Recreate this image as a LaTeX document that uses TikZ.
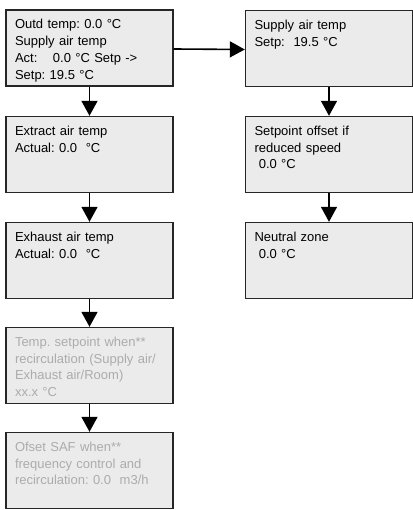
\documentclass[tikz,border=0pt]{standalone}
\usepackage{fontspec}
\setmainfont{Liberation Sans}
\usetikzlibrary{arrows.meta}
\definecolor{boxgray}{RGB}{235,235,235}
\definecolor{dimtext}{RGB}{172,172,172}
\tikzset{%
  menubox/.style={draw=black!85,line width=1.4pt,fill=boxgray,rectangle,
    inner xsep=9pt,inner ysep=0pt,text width=149pt,align=left,
    text height=19pt,text depth=57pt,
    font=\fontsize{13}{16.7}\selectfont\frenchspacing},
  dimbox/.style={menubox,text=dimtext},
  flow/.style={draw=black,line width=1.6pt,-{Triangle[width=16pt,length=15pt]}}
}

\begin{document}
\begin{tikzpicture}[x=1pt,y=-1pt]
  \useasboundingbox (0,0) rectangle (412,510);
  % main column
  \path
    (89.5,48) node[menubox] (m_1)
      {Outd temp: 0.0 °C\\Supply air temp\\Act:\hspace{1.2em}0.0 °C Setp ->\\Setp: 19.5 °C}
    (89.5,154.5) node[menubox] (m_2) {Extract air temp\\Actual: 0.0 \ °C}
    (89.5,260.5) node[menubox] (m_3) {Exhaust air temp\\Actual: 0.0 \ °C}
    (89.5,365.5) node[dimbox] (m_4)
      {Temp. setpoint when**\\recirculation (Supply air/\\Exhaust air/Room)\\xx.x °C}
    (89.5,470.5) node[dimbox] (m_5)
      {Ofset SAF when**\\frequency control and\\recirculation: 0.0 \ m3/h};
  % setpoint column
  \path
    (329,48.5) node[menubox] (s_1) {Supply air temp\\Setp: \ 19.5 °C}
    (329,154.5) node[menubox] (s_2) {Setpoint offset if\\reduced speed\\\ 0.0 °C}
    (329,260.5) node[menubox] (s_3) {Neutral zone\\\ 0.0 °C};
  \draw[flow] (m_1) -- (m_2);
  \draw[flow] (m_2) -- (m_3);
  \draw[flow] (m_3) -- (m_4);
  \draw[flow] (m_4) -- (m_5);
  \draw[flow] ([yshift=-1pt]m_1.east) -- ([yshift=-1pt]s_1.west);
  \draw[flow] (s_1) -- (s_2);
  \draw[flow] (s_2) -- (s_3);
\end{tikzpicture}
\end{document}
